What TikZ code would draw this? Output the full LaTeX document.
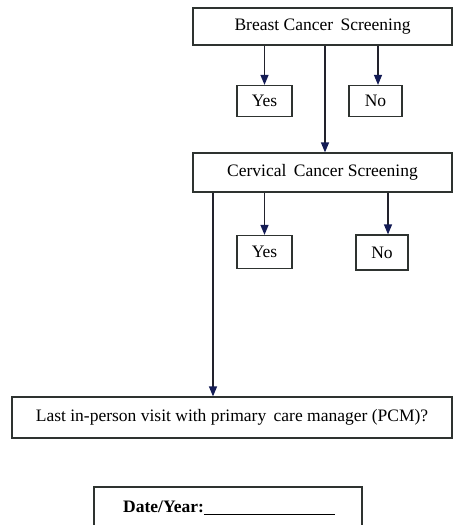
\documentclass[tikz,border=0pt]{standalone}
\usepackage{fontspec}
\setmainfont{Liberation Serif}
\usetikzlibrary{arrows.meta}
\definecolor{boxline}{HTML}{2E3330}
\definecolor{wire}{HTML}{22222C}
\definecolor{tipblue}{HTML}{141C55}
\tikzset{
  box/.style={draw=boxline, line width=1.2pt, fill=white, inner sep=0pt,
              font=\fontsize{17.5}{20}\selectfont},
  wirearrow/.style={draw=wire, line width=1.2pt,
              -{Triangle[length=10pt,width=8pt,color=tipblue]}},
  wireline/.style={draw=wire, line width=1.2pt}
}
\begin{document}
\begin{tikzpicture}[x=1pt,y=-1pt]
  \useasboundingbox (0,0) rectangle (456,525);
  \clip (0,0) rectangle (456,525);

  % screening boxes
  \node[box, minimum width=259pt, minimum height=37pt] (breast) at (322.5,26.5)
    {Breast Cancer\hspace{3pt} Screening};
  \node[box, minimum width=55pt, minimum height=31pt] (yes1) at (264.5,101) {Yes};
  \node[box, minimum width=53pt, minimum height=31pt] (no1) at (375.5,101) {No};

  \node[box, minimum width=259pt, minimum height=39pt] (cervical) at (322.5,172.5)
    {Cervical\hspace{3pt} Cancer Screening};
  \node[box, minimum width=55pt, minimum height=33pt] (yes2) at (264.5,252) {Yes};
  \node[box, minimum width=52pt, minimum height=35pt] (no2) at (382,252.5) {No};

  \node[box, minimum width=440pt, minimum height=41pt] (visit) at (232,417.5)
    {Last in-person visit with primary\hspace{3pt} care manager (PCM)?};

  % date box, running past the lower edge
  \node[box, minimum width=268pt, minimum height=50pt] (date) at (228,512) {};
  \node[anchor=base west, inner sep=0pt, font=\fontsize{17.5}{20}\selectfont\bfseries]
    (datetext) at (123,512) {Date/Year:\rule[-3pt]{131pt}{1.1pt}};

  % connectors
  \draw[wirearrow] (breast.south -| yes1) -- (yes1.north);
  \draw[wirearrow] (breast.south -| 378,0) -- (no1.north -| 378,0);
  \draw[wirearrow] (breast.south -| 325,0) -- (cervical.north -| 325,0);
  \draw[wirearrow] (cervical.south -| yes2) -- (yes2.north);
  \draw[wirearrow] (cervical.south -| 388,0) -- (no2.north -| 388,0);
  \draw[wirearrow] (cervical.south -| 213,0) -- (visit.north -| 213,0);
\end{tikzpicture}
\end{document}
